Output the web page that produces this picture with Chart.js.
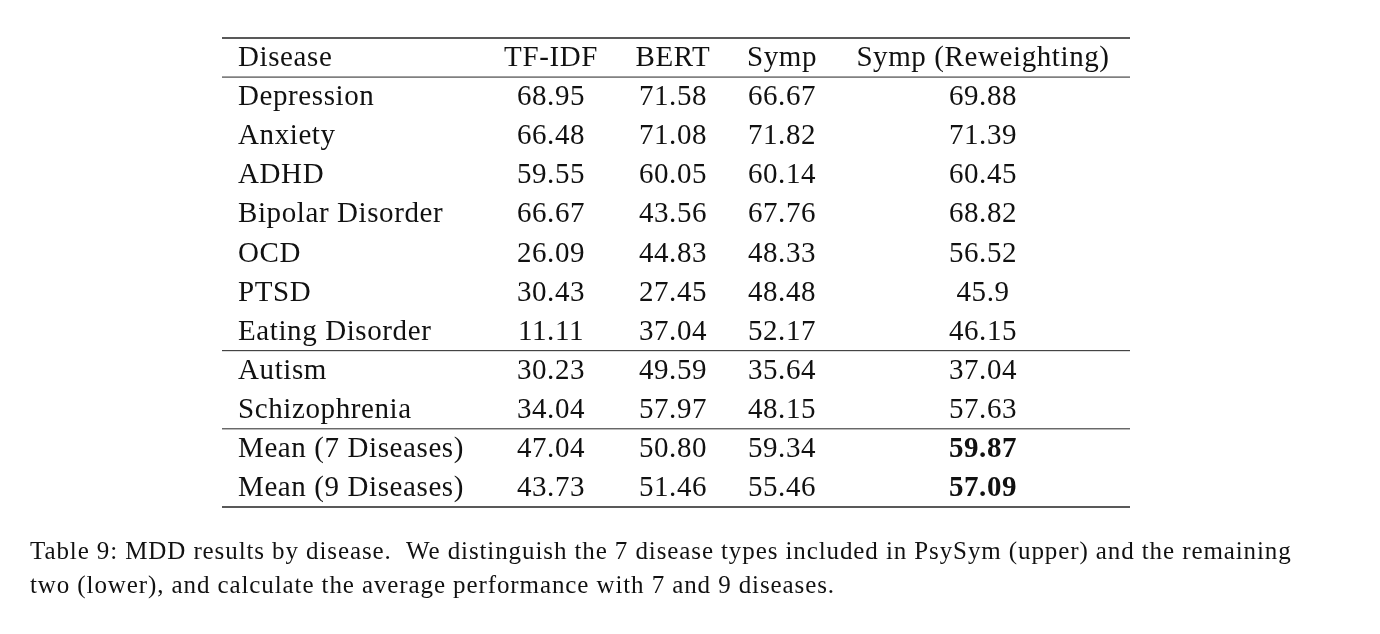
<!DOCTYPE html>
<html><head><meta charset="utf-8">
<script src="https://cdn.jsdelivr.net/npm/chart.js@4"></script>
<style>body{margin:0;background:#fff}canvas{display:block}</style>
</head><body>
<canvas id="c" width="1380" height="634"></canvas>
<script>
// Table data
const columns = ['Disease', 'TF-IDF', 'BERT', 'Symp', 'Symp (Reweighting)'];
const diseases = ['Depression', 'Anxiety', 'ADHD', 'Bipolar Disorder', 'OCD', 'PTSD', 'Eating Disorder',
  'Autism', 'Schizophrenia', 'Mean (7 Diseases)', 'Mean (9 Diseases)'];
const tfidf = ['68.95', '66.48', '59.55', '66.67', '26.09', '30.43', '11.11', '30.23', '34.04', '47.04', '43.73'];
const bert  = ['71.58', '71.08', '60.05', '43.56', '44.83', '27.45', '37.04', '49.59', '57.97', '50.80', '51.46'];
const symp  = ['66.67', '71.82', '60.14', '67.76', '48.33', '48.48', '52.17', '35.64', '48.15', '59.34', '55.46'];
const sympRw = ['69.88', '71.39', '60.45', '68.82', '56.52', '45.9', '46.15', '37.04', '57.63', '59.87', '57.09'];
const boldCells = [[9, 4], [10, 4]];
const ruleAfter = [0, 7, 9]; // rows after which a thin rule is drawn
const caption = [
  'Table 9: MDD results by disease.  We distinguish the 7 disease types included in PsySym (upper) and the remaining',
  'two (lower), and calculate the average performance with 7 and 9 diseases.'
];

const rowLabels = ['Disease'].concat(diseases);
const colData = [diseases, tfidf, bert, symp, sympRw];
const colX = [16, 329, 451, 560, 761]; // column anchors relative to table left
const serif = '"Liberation Serif", "DejaVu Serif", serif';

const tablePlugin = {
  id: 'table',
  afterDraw(chart) {
    const ctx = chart.ctx, a = chart.chartArea, y = chart.scales.y;
    ctx.save();
    ctx.fillStyle = '#111';
    ctx.textBaseline = 'middle';
    ctx.letterSpacing = '0.6px';
    const cell = (txt, ci, py, bold) => {
      ctx.font = (bold ? 'bold ' : '') + '29px ' + serif;
      ctx.textAlign = ci === 0 ? 'left' : 'center';
      ctx.fillText(txt, a.left + colX[ci], py + 1);
    };
    columns.forEach((c, ci) => cell(c, ci, y.getPixelForValue(0), false));
    diseases.forEach((d, ri) => {
      const py = y.getPixelForValue(ri + 1);
      colData.forEach((col, ci) => {
        const b = boldCells.some(([r, c]) => r === ri && c === ci);
        cell(col[ri], ci, py, b);
      });
    });
    const band = (y.getPixelForValue(1) - y.getPixelForValue(0));
    ctx.strokeStyle = '#222';
    const hline = (py, w) => { ctx.lineWidth = w; ctx.beginPath(); ctx.moveTo(a.left, py); ctx.lineTo(a.right, py); ctx.stroke(); };
    hline(a.top, 1.5);
    hline(a.bottom, 1.5);
    ruleAfter.forEach(r => hline(y.getPixelForValue(r) + band / 2, 1));
    ctx.font = '25px ' + serif;
    ctx.letterSpacing = '0.9px';
    ctx.textAlign = 'left';
    ctx.textBaseline = 'alphabetic';
    caption.forEach((t, i) => ctx.fillText(t, 30, 559 + i * 34));
    ctx.restore();
  }
};

new Chart(document.getElementById('c'), {
  type: 'bar',
  data: { labels: rowLabels, datasets: [{ data: [] }] },
  options: {
    responsive: false,
    animation: false,
    indexAxis: 'y',
    layout: { padding: { left: 222, right: 250, top: 38, bottom: 127 } },
    plugins: { legend: { display: false }, tooltip: { enabled: false } },
    scales: {
      y: { type: 'category', display: false, offset: true },
      x: { display: false, min: 0, max: 1 }
    }
  },
  plugins: [tablePlugin]
});
</script>
</body></html>
